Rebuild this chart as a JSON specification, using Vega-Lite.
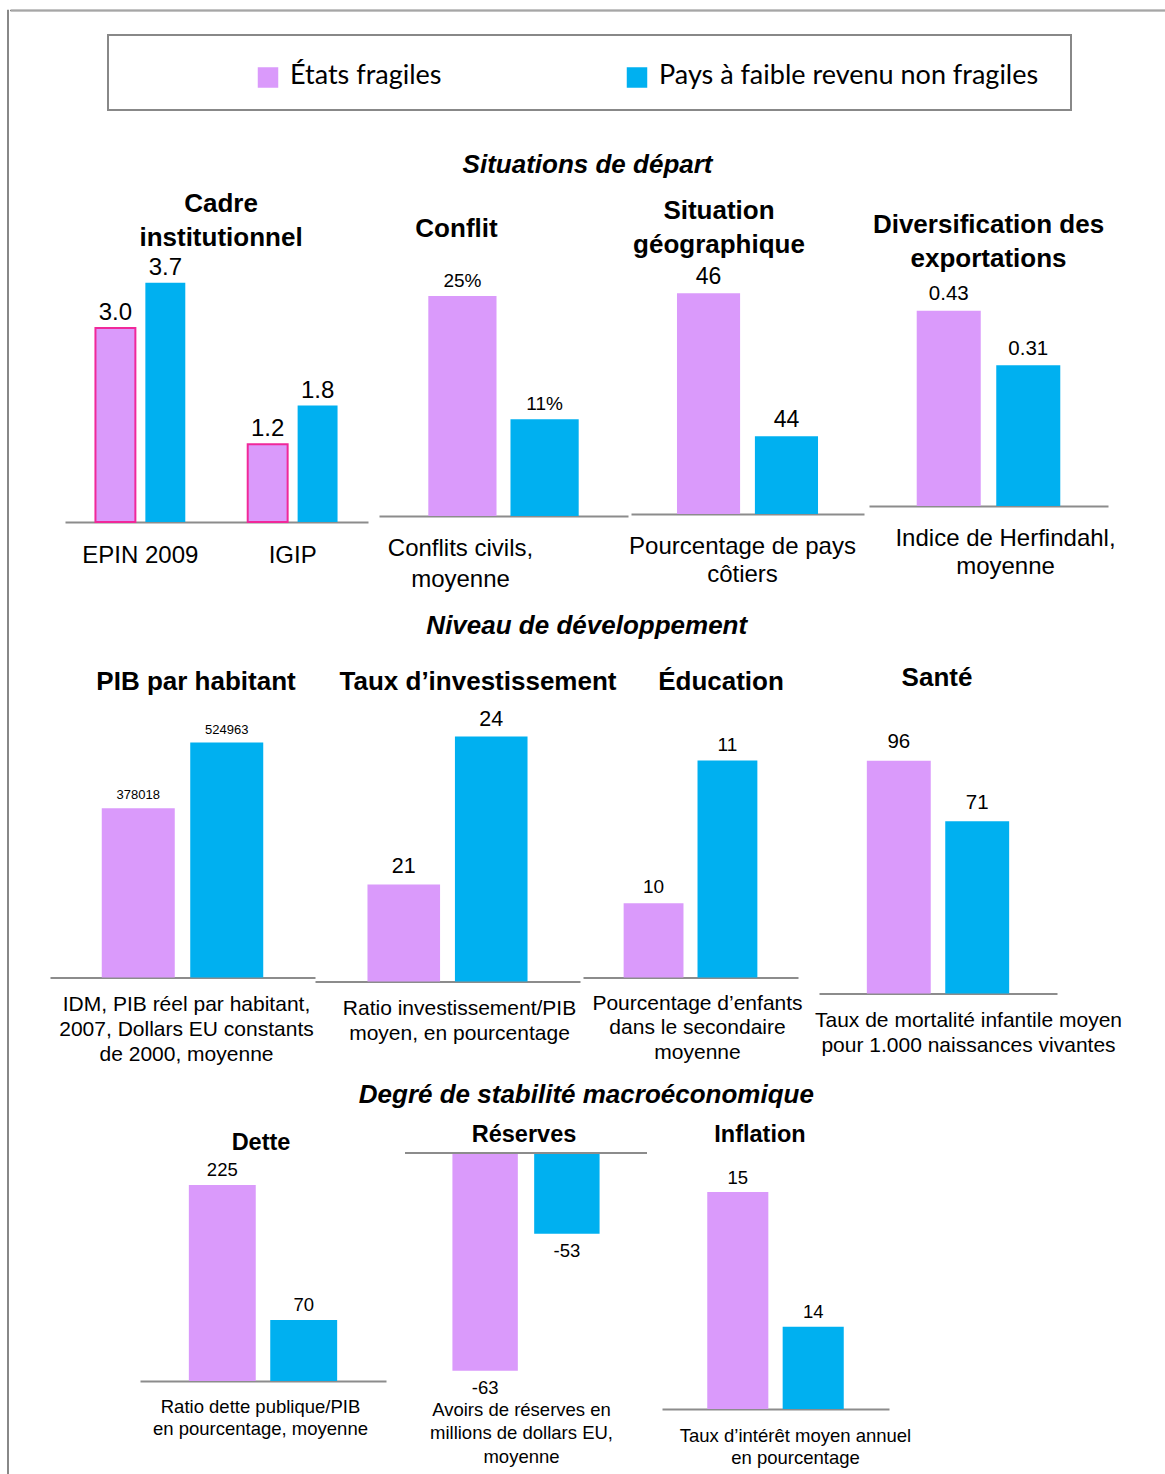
{
 "$schema": "https://vega.github.io/schema/vega-lite/v6.json",
 "padding": {"left": 6, "top": 8.5, "right": 0, "bottom": 0},
 "background": "white",
 "config": {
  "view": {"stroke": null},
  "font": "Liberation Sans",
  "title": {"font": "Liberation Sans", "fontSize": 26, "fontWeight": "bold", "color": "black", "baseline": "bottom", "anchor": "middle", "lineHeight": 34},
  "axis": {"grid": false, "ticks": false, "tickSize": 0, "labels": false, "domainColor": "#8c8c8c", "domainWidth": 2, "titleFont": "Liberation Sans", "titleFontWeight": "normal", "titleColor": "black", "titleBaseline": "top", "titleAlign": "center", "labelFont": "Liberation Sans", "labelColor": "black"},
  "text": {"font": "Liberation Sans", "color": "black"}
 },
 "datasets": {
  "legend": [{"series": "États fragiles"}, {"series": "Pays à faible revenu non fragiles"}],
  "bars": [
   {"panel": "cadre", "group": "EPIN 2009", "series": "États fragiles", "value": 3.0, "label": "3.0"},
   {"panel": "cadre", "group": "EPIN 2009", "series": "Pays à faible revenu non fragiles", "value": 3.7, "label": "3.7"},
   {"panel": "cadre", "group": "IGIP", "series": "États fragiles", "value": 1.2, "label": "1.2"},
   {"panel": "cadre", "group": "IGIP", "series": "Pays à faible revenu non fragiles", "value": 1.8, "label": "1.8"},
   {"panel": "conflit", "series": "États fragiles", "value": 0.25, "label": "25%"},
   {"panel": "conflit", "series": "Pays à faible revenu non fragiles", "value": 0.11, "label": "11%"},
   {"panel": "geo", "series": "États fragiles", "value": 46, "label": "46"},
   {"panel": "geo", "series": "Pays à faible revenu non fragiles", "value": 44, "label": "44"},
   {"panel": "divers", "series": "États fragiles", "value": 0.43, "label": "0.43"},
   {"panel": "divers", "series": "Pays à faible revenu non fragiles", "value": 0.31, "label": "0.31"},
   {"panel": "pib", "series": "États fragiles", "value": 378018, "label": "378018"},
   {"panel": "pib", "series": "Pays à faible revenu non fragiles", "value": 524963, "label": "524963"},
   {"panel": "invest", "series": "États fragiles", "value": 21, "label": "21"},
   {"panel": "invest", "series": "Pays à faible revenu non fragiles", "value": 24, "label": "24"},
   {"panel": "educ", "series": "États fragiles", "value": 10, "label": "10"},
   {"panel": "educ", "series": "Pays à faible revenu non fragiles", "value": 11, "label": "11"},
   {"panel": "sante", "series": "États fragiles", "value": 96, "label": "96"},
   {"panel": "sante", "series": "Pays à faible revenu non fragiles", "value": 71, "label": "71"},
   {"panel": "dette", "series": "États fragiles", "value": 225, "label": "225"},
   {"panel": "dette", "series": "Pays à faible revenu non fragiles", "value": 70, "label": "70"},
   {"panel": "reserves", "series": "États fragiles", "value": -63, "label": "-63"},
   {"panel": "reserves", "series": "Pays à faible revenu non fragiles", "value": -53, "label": "-53"},
   {"panel": "inflation", "series": "États fragiles", "value": 15, "label": "15"},
   {"panel": "inflation", "series": "Pays à faible revenu non fragiles", "value": 14, "label": "14"}
  ]
 },
 "spacing": 0,
 "hconcat": [
  {"width": 1, "height": 1466, "data": {"values": []}, "mark": "point", "view": {"stroke": "#888888", "strokeWidth": 1}},
  {
   "spacing": 16.5,
   "vconcat": [
    {
     "spacing": 22.5,
     "vconcat": [
      {"width": 1158, "height": 1, "data": {"values": []}, "mark": "point", "view": {"stroke": "#888888", "strokeWidth": 1}},
      {
       "spacing": 0, "bounds": "flush",
       "hconcat": [
        {"width": 97.5, "height": 100, "data": {"values": []}, "mark": "point"},
        {
         "width": 963, "height": 75,
         "view": {"stroke": "#888888", "strokeWidth": 2},
         "data": {"name": "legend"},
         "layer": [
          {"mark": {"type": "point", "shape": "square", "filled": true, "size": 420, "opacity": 1, "yOffset": 5},
           "encoding": {
            "x": {"field": "series", "type": "nominal", "sort": ["États fragiles", "Pays à faible revenu non fragiles"], "scale": {"type": "point", "padding": 0, "range": [160, 529]}, "axis": null},
            "color": {"field": "series", "type": "nominal", "scale": {"domain": ["États fragiles", "Pays à faible revenu non fragiles"], "range": ["#DA9AFB", "#00B0F0"]}, "legend": null}
           }},
          {"mark": {"type": "text", "align": "left", "baseline": "middle", "dx": 22, "dy": 3, "fontSize": 27, "font": "Lato", "color": "black"},
           "encoding": {
            "x": {"field": "series", "type": "nominal", "sort": ["États fragiles", "Pays à faible revenu non fragiles"], "scale": {"type": "point", "padding": 0, "range": [160, 529]}, "axis": null},
            "text": {"field": "series"}
           }}
         ]
        }
       ]
      }
     ]
    },
    {
     "title": {"text": "Situations de départ", "fontStyle": "italic", "offset": 13, "dx": 25},
     "spacing": 0, "bounds": "flush",
     "hconcat": [
      {"width": 54.5, "height": 347, "data": {"values": []}, "mark": "point"},
      {
       "width": 303, "height": 273,
       "title": {"text": ["Cadre", "institutionnel"], "offset": -2, "dx": 4.5},
       "data": {"name": "bars"},
       "transform": [{"filter": "datum.panel === 'cadre'"}],
       "encoding": {
        "x": {"field": "group", "type": "nominal", "sort": ["EPIN 2009", "IGIP"], "scale": {"paddingInner": 0.41, "paddingOuter": 0.2}, "axis": {"title": null, "labels": true, "labelFontSize": 24, "labelPadding": 21.6, "labelAngle": 0}},
        "xOffset": {"field": "series", "type": "nominal", "sort": ["États fragiles", "Pays à faible revenu non fragiles"], "scale": {"paddingInner": 0.2, "paddingOuter": 0}},
        "y": {"field": "value", "type": "quantitative", "scale": {"domain": [0, 4.22], "nice": false, "zero": false}, "axis": null}
       },
       "layer": [
        {"mark": {"type": "bar", "strokeWidth": 2},
         "encoding": {
          "color": {"field": "series", "type": "nominal", "scale": {"domain": ["États fragiles", "Pays à faible revenu non fragiles"], "range": ["#DA9AFB", "#00B0F0"]}, "legend": null},
          "stroke": {"condition": {"test": "datum.series === 'États fragiles'", "value": "#F0289A"}, "value": "transparent"}
         }},
        {"mark": {"type": "text", "fontSize": 24, "dy": -8, "baseline": "alphabetic"}, "encoding": {"text": {"field": "label"}}}
       ]
      },
      {"width": 11, "height": 1, "data": {"values": []}, "mark": "point"},
      {
       "width": 249, "height": 267,
       "title": {"text": "Conflit", "offset": 7, "dx": -47},
       "data": {"name": "bars"},
       "transform": [{"filter": "datum.panel === 'conflit'"}],
       "encoding": {
        "x": {"field": "series", "type": "nominal", "sort": ["États fragiles", "Pays à faible revenu non fragiles"], "scale": {"paddingInner": 0.17, "paddingOuter": 0.6}, "axis": {"title": ["Conflits civils,", "moyenne"], "titleFontSize": 24, "titleLineHeight": 31, "titleX": 81, "titleY": 20.6}},
        "y": {"field": "value", "type": "quantitative", "scale": {"domain": [0, 0.3034], "nice": false, "zero": false}, "axis": null}
       },
       "layer": [
        {"mark": {"type": "bar"}, "encoding": {"color": {"field": "series", "type": "nominal", "scale": {"domain": ["États fragiles", "Pays à faible revenu non fragiles"], "range": ["#DA9AFB", "#00B0F0"]}, "legend": null}}},
        {"mark": {"type": "text", "fontSize": 19, "dy": -9, "baseline": "alphabetic"}, "encoding": {"text": {"field": "label"}}}
       ]
      },
      {"width": 3, "height": 1, "data": {"values": []}, "mark": "point"},
      {
       "width": 233, "height": 265,
       "title": {"text": ["Situation", "géographique"], "offset": -9, "dx": -28.5},
       "data": {"name": "bars"},
       "transform": [{"filter": "datum.panel === 'geo'"}],
       "encoding": {
        "x": {"field": "series", "type": "nominal", "sort": ["États fragiles", "Pays à faible revenu non fragiles"], "scale": {"paddingInner": 0.19, "paddingOuter": 0.59}, "axis": {"title": ["Pourcentage de pays", "côtiers"], "titleFontSize": 24, "titleLineHeight": 28, "titleX": 111, "titleY": 20.6}},
        "y": {"field": "value", "type": "quantitative", "scale": {"domain": [42.91, 46.62], "nice": false, "zero": false}, "axis": null}
       },
       "layer": [
        {"mark": {"type": "bar"}, "encoding": {"y2": {"datum": 42.91}, "color": {"field": "series", "type": "nominal", "scale": {"domain": ["États fragiles", "Pays à faible revenu non fragiles"], "range": ["#DA9AFB", "#00B0F0"]}, "legend": null}}},
        {"mark": {"type": "text", "fontSize": 23, "dy": -9, "baseline": "alphabetic"}, "encoding": {"text": {"field": "label"}}}
       ]
      },
      {"width": 5, "height": 1, "data": {"values": []}, "mark": "point"},
      {
       "width": 239, "height": 257,
       "title": {"text": ["Diversification des", "exportations"], "offset": -23, "dx": 0},
       "data": {"name": "bars"},
       "transform": [{"filter": "datum.panel === 'divers'"}],
       "encoding": {
        "x": {"field": "series", "type": "nominal", "sort": ["États fragiles", "Pays à faible revenu non fragiles"], "scale": {"paddingInner": 0.195, "paddingOuter": 0.6}, "axis": {"title": ["Indice de Herfindahl,", "moyenne"], "titleFontSize": 24, "titleLineHeight": 28, "titleX": 136, "titleY": 20.6}},
        "y": {"field": "value", "type": "quantitative", "scale": {"domain": [0, 0.566], "nice": false, "zero": false}, "axis": null}
       },
       "layer": [
        {"mark": {"type": "bar"}, "encoding": {"color": {"field": "series", "type": "nominal", "scale": {"domain": ["États fragiles", "Pays à faible revenu non fragiles"], "range": ["#DA9AFB", "#00B0F0"]}, "legend": null}}},
        {"mark": {"type": "text", "fontSize": 20.5, "dy": -10.5, "baseline": "alphabetic"}, "encoding": {"text": {"field": "label"}}}
       ]
      }
     ]
    },
    {
     "title": {"text": "Niveau de développement", "fontStyle": "italic", "offset": 26, "dx": 21},
     "spacing": 0, "bounds": "flush",
     "hconcat": [
      {"width": 39.5, "height": 1, "data": {"values": []}, "mark": "point"},
      {
       "width": 265, "height": 274,
       "title": {"text": "PIB par habitant", "offset": 9, "dx": 13.5},
       "data": {"name": "bars"},
       "transform": [{"filter": "datum.panel === 'pib'"}],
       "encoding": {
        "x": {"field": "series", "type": "nominal", "sort": ["États fragiles", "Pays à faible revenu non fragiles"], "scale": {"paddingInner": 0.175, "paddingOuter": 0.585}, "axis": {"title": ["IDM, PIB réel par habitant,", "2007, Dollars EU constants", "de 2000, moyenne"], "titleFontSize": 21, "titleLineHeight": 25, "titleX": 136, "titleY": 15.9}},
        "y": {"field": "value", "type": "quantitative", "scale": {"domain": [0, 612300], "nice": false, "zero": false}, "axis": null}
       },
       "layer": [
        {"mark": {"type": "bar"}, "encoding": {"color": {"field": "series", "type": "nominal", "scale": {"domain": ["États fragiles", "Pays à faible revenu non fragiles"], "range": ["#DA9AFB", "#00B0F0"]}, "legend": null}}},
        {"mark": {"type": "text", "fontSize": 13, "dy": -9, "baseline": "alphabetic"}, "encoding": {"text": {"field": "label"}}}
       ]
      },
      {
       "width": 265, "height": 278,
       "title": {"text": "Taux d’investissement", "offset": 9, "dx": 30.5},
       "data": {"name": "bars"},
       "transform": [{"filter": "datum.panel === 'invest'"}],
       "encoding": {
        "x": {"field": "series", "type": "nominal", "sort": ["États fragiles", "Pays à faible revenu non fragiles"], "scale": {"paddingInner": 0.17, "paddingOuter": 0.6}, "axis": {"title": ["Ratio investissement/PIB", "moyen, en pourcentage"], "titleFontSize": 21, "titleLineHeight": 25, "titleX": 144, "titleY": 15.9}},
        "y": {"field": "value", "type": "quantitative", "scale": {"domain": [19.03, 24.67], "nice": false, "zero": false}, "axis": null}
       },
       "layer": [
        {"mark": {"type": "bar"}, "encoding": {"y2": {"datum": 19.03}, "color": {"field": "series", "type": "nominal", "scale": {"domain": ["États fragiles", "Pays à faible revenu non fragiles"], "range": ["#DA9AFB", "#00B0F0"]}, "legend": null}}},
        {"mark": {"type": "text", "fontSize": 21.5, "dy": -11, "baseline": "alphabetic"}, "encoding": {"text": {"field": "label"}}}
       ]
      },
      {"width": 3, "height": 1, "data": {"values": []}, "mark": "point"},
      {
       "width": 215, "height": 274,
       "title": {"text": "Éducation", "offset": 9, "dx": 30.5},
       "data": {"name": "bars"},
       "transform": [{"filter": "datum.panel === 'educ'"}],
       "encoding": {
        "x": {"field": "series", "type": "nominal", "sort": ["États fragiles", "Pays à faible revenu non fragiles"], "scale": {"paddingInner": 0.19, "paddingOuter": 0.55}, "axis": {"title": ["Pourcentage d’enfants", "dans le secondaire", "moyenne"], "titleFontSize": 21, "titleLineHeight": 24.5, "titleX": 114, "titleY": 14.9}},
        "y": {"field": "value", "type": "quantitative", "scale": {"domain": [9.48, 11.4], "nice": false, "zero": false}, "axis": null}
       },
       "layer": [
        {"mark": {"type": "bar"}, "encoding": {"y2": {"datum": 9.48}, "color": {"field": "series", "type": "nominal", "scale": {"domain": ["États fragiles", "Pays à faible revenu non fragiles"], "range": ["#DA9AFB", "#00B0F0"]}, "legend": null}}},
        {"mark": {"type": "text", "fontSize": 19, "dy": -10, "baseline": "alphabetic"}, "encoding": {"text": {"field": "label"}}}
       ]
      },
      {"width": 21, "height": 1, "data": {"values": []}, "mark": "point"},
      {
       "width": 238, "height": 290,
       "title": {"text": "Santé", "offset": 13, "dx": -1},
       "data": {"name": "bars"},
       "transform": [{"filter": "datum.panel === 'sante'"}],
       "encoding": {
        "x": {"field": "series", "type": "nominal", "sort": ["États fragiles", "Pays à faible revenu non fragiles"], "scale": {"paddingInner": 0.185, "paddingOuter": 0.61}, "axis": {"title": ["Taux de mortalité infantile moyen", "pour 1.000 naissances vivantes"], "titleFontSize": 21, "titleLineHeight": 25, "titleX": 149, "titleY": 15.9}},
        "y": {"field": "value", "type": "quantitative", "scale": {"domain": [0, 119.6], "nice": false, "zero": false}, "axis": null}
       },
       "layer": [
        {"mark": {"type": "bar"}, "encoding": {"color": {"field": "series", "type": "nominal", "scale": {"domain": ["États fragiles", "Pays à faible revenu non fragiles"], "range": ["#DA9AFB", "#00B0F0"]}, "legend": null}}},
        {"mark": {"type": "text", "fontSize": 20.5, "dy": -12.5, "baseline": "alphabetic"}, "encoding": {"text": {"field": "label"}}}
       ]
      }
     ]
    },
    {
     "title": {"text": "Degré de stabilité macroéconomique", "fontStyle": "italic", "offset": 15, "dx": 126},
     "spacing": 0, "bounds": "flush",
     "hconcat": [
      {"width": 129.5, "height": 1, "data": {"values": []}, "mark": "point"},
      {
       "width": 246, "height": 228,
       "title": {"text": "Dette", "fontSize": 23.5, "offset": -1, "dx": -2},
       "data": {"name": "bars"},
       "transform": [{"filter": "datum.panel === 'dette'"}],
       "encoding": {
        "x": {"field": "series", "type": "nominal", "sort": ["États fragiles", "Pays à faible revenu non fragiles"], "scale": {"paddingInner": 0.178, "paddingOuter": 0.6}, "axis": {"title": ["Ratio dette publique/PIB", "en pourcentage, moyenne"], "titleFontSize": 18.5, "titleLineHeight": 22, "titleX": 120, "titleY": 16.2}},
        "y": {"field": "value", "type": "quantitative", "scale": {"domain": [0, 261.8], "nice": false, "zero": false}, "axis": null}
       },
       "layer": [
        {"mark": {"type": "bar"}, "encoding": {"color": {"field": "series", "type": "nominal", "scale": {"domain": ["États fragiles", "Pays à faible revenu non fragiles"], "range": ["#DA9AFB", "#00B0F0"]}, "legend": null}}},
        {"mark": {"type": "text", "fontSize": 18.5, "dy": -9.5, "baseline": "alphabetic"}, "encoding": {"text": {"field": "label"}}}
       ]
      },
      {"width": 19, "height": 1, "data": {"values": []}, "mark": "point"},
      {
       "width": 242, "height": 226,
       "title": {"text": "Réserves", "fontSize": 23.5, "offset": 6, "dx": -2},
       "data": {"name": "bars"},
       "transform": [{"filter": "datum.panel === 'reserves'"}],
       "layer": [
        {"mark": {"type": "bar"},
         "encoding": {
          "x": {"field": "series", "type": "nominal", "sort": ["États fragiles", "Pays à faible revenu non fragiles"], "scale": {"paddingInner": 0.2, "paddingOuter": 0.58}, "axis": {"title": ["Avoirs de réserves en", "millions de dollars EU,", "moyenne"], "domain": false, "titleFontSize": 18.5, "titleLineHeight": 23.5, "titleX": 116, "titleY": 21.2}},
          "y": {"field": "value", "type": "quantitative", "scale": {"domain": [-63.6, -47.1], "nice": false, "zero": false}, "axis": null},
          "y2": {"datum": -47.1},
          "color": {"field": "series", "type": "nominal", "scale": {"domain": ["États fragiles", "Pays à faible revenu non fragiles"], "range": ["#DA9AFB", "#00B0F0"]}, "legend": null}
         }},
        {"mark": {"type": "text", "fontSize": 18.5, "dy": 8, "baseline": "top"},
         "encoding": {
          "x": {"field": "series", "type": "nominal", "sort": ["États fragiles", "Pays à faible revenu non fragiles"]},
          "y": {"field": "value", "type": "quantitative"},
          "text": {"field": "label"}
         }},
        {"mark": {"type": "rule", "color": "#8c8c8c", "strokeWidth": 2},
         "encoding": {"y": {"datum": -47.1, "type": "quantitative"}}}
       ]
      },
      {"width": 15, "height": 1, "data": {"values": []}, "mark": "point"},
      {
       "width": 227, "height": 256,
       "title": {"text": "Inflation", "fontSize": 23.5, "offset": 7, "dx": -15.5},
       "data": {"name": "bars"},
       "transform": [{"filter": "datum.panel === 'inflation'"}],
       "encoding": {
        "x": {"field": "series", "type": "nominal", "sort": ["États fragiles", "Pays à faible revenu non fragiles"], "scale": {"paddingInner": 0.19, "paddingOuter": 0.6}, "axis": {"title": ["Taux d’intérêt moyen annuel", "en pourcentage"], "titleFontSize": 18.5, "titleLineHeight": 22, "titleX": 133, "titleY": 17.2}},
        "y": {"field": "value", "type": "quantitative", "scale": {"domain": [13.39, 15.29], "nice": false, "zero": false}, "axis": null}
       },
       "layer": [
        {"mark": {"type": "bar"}, "encoding": {"y2": {"datum": 13.39}, "color": {"field": "series", "type": "nominal", "scale": {"domain": ["États fragiles", "Pays à faible revenu non fragiles"], "range": ["#DA9AFB", "#00B0F0"]}, "legend": null}}},
        {"mark": {"type": "text", "fontSize": 18.5, "dy": -8.5, "baseline": "alphabetic"}, "encoding": {"text": {"field": "label"}}}
       ]
      }
     ]
    }
   ]
  }
 ]
}
